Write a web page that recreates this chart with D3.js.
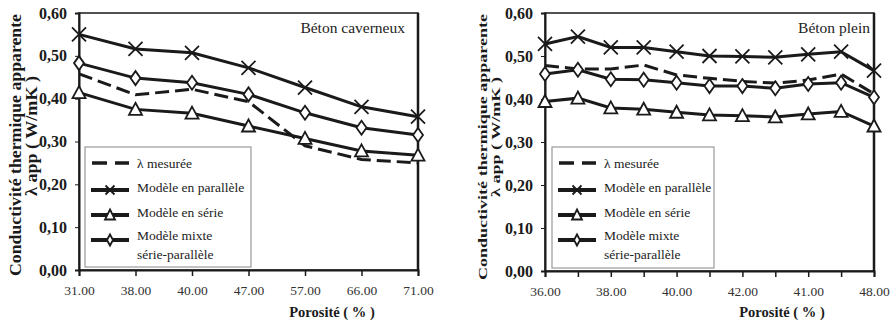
<!DOCTYPE html>
<html><head><meta charset="utf-8">
<script src="https://cdn.jsdelivr.net/npm/d3@7"></script>
<style>
html,body{margin:0;padding:0;background:#fff;}
svg{display:block;}
</style></head>
<body><svg id="c" width="896" height="325"></svg>
<script>
// ---- data ----
const seriesNames = ["λ mesurée", "Modèle en parallèle", "Modèle en série", "Modèle mixte", "série-parallèle"];
const yTicks = [0, 0.1, 0.2, 0.3, 0.4, 0.5, 0.6];

const leftCategories = ["31.00","38.00","40.00","47.00","57.00","66.00","71.00"];
const leftMeasured = [0.458,0.409,0.422,0.393,0.290,0.258,0.250];
const leftParallel = [0.550,0.516,0.507,0.472,0.426,0.381,0.358];
const leftSerie    = [0.414,0.375,0.366,0.336,0.307,0.278,0.268];
const leftMixte    = [0.483,0.448,0.437,0.410,0.367,0.332,0.315];

const rightTickLabels = ["36.00","","38.00","","40.00","","42.00","","41.00","","48.00"];
const rightMeasured = [0.478,0.470,0.470,0.479,0.456,0.448,0.441,0.437,0.444,0.458,0.412];
const rightParallel = [0.528,0.545,0.520,0.520,0.510,0.500,0.499,0.497,0.504,0.510,0.466];
const rightSerie    = [0.394,0.402,0.379,0.376,0.369,0.363,0.361,0.358,0.365,0.371,0.337];
const rightMixte    = [0.458,0.468,0.446,0.445,0.438,0.430,0.430,0.425,0.435,0.438,0.404];

const svg = d3.select("#c");
const INK = "#1a1a1a";
const SERIF = "Liberation Serif";

function xMark(g, s){ g.append("path").attr("d",`M${-s},${-s}L${s},${s}M${-s},${s}L${s},${-s}`).attr("stroke",INK).attr("stroke-width",1.8).attr("fill","none"); }
function triMark(g, w, h){ g.append("path").attr("d",`M0,${-h*0.55}L${w/2},${h*0.45}L${-w/2},${h*0.45}Z`).attr("stroke",INK).attr("stroke-width",1.8).attr("fill","#fff"); }
function diaMark(g, w, h){ g.append("path").attr("d",`M0,${-h/2}L${w/2},0L0,${h/2}L${-w/2},0Z`).attr("stroke",INK).attr("stroke-width",1.8).attr("fill","#fff"); }

function drawChart(cfg){
  const n = cfg.labels.length;
  const x = d3.scalePoint().domain(d3.range(n)).range([cfg.x0, cfg.x1]);
  const y = d3.scaleLinear().domain([0, 0.6]).range([cfg.yBot, cfg.yTop]);
  const g = svg.append("g");

  // frame
  g.append("rect").attr("x",cfg.x0).attr("y",cfg.yTop).attr("width",cfg.x1-cfg.x0).attr("height",cfg.yBot-cfg.yTop)
    .attr("fill","none").attr("stroke",INK).attr("stroke-width",1.5);
  g.append("line").attr("x1",cfg.x1).attr("x2",cfg.x1).attr("y1",cfg.yTop).attr("y2",cfg.yBot).attr("stroke",INK).attr("stroke-width",2.5);

  // y axis
  const ya = g.append("g").attr("transform",`translate(${cfg.x0},0)`)
    .call(d3.axisLeft(y).tickValues(yTicks).tickSize(4).tickPadding(8).tickFormat(d => d3.format(".2f")(d).replace(".", ",")));
  ya.attr("font-family",null);
  ya.select(".domain").attr("stroke",INK).attr("stroke-width",2);
  ya.selectAll(".tick line").attr("stroke",INK).attr("stroke-width",1);
  ya.selectAll("text").style("font-size","16px").style("font-weight","bold").attr("fill",INK);

  // x axis
  const xa = g.append("g").attr("transform",`translate(0,${cfg.yBot})`)
    .call(d3.axisBottom(x).tickSize(6).tickPadding(9).tickFormat(i => cfg.labels[i]));
  xa.attr("font-family",null);
  xa.select(".domain").attr("stroke",INK).attr("stroke-width",2);
  xa.selectAll(".tick line").attr("stroke",INK).attr("stroke-width",1.5);
  xa.selectAll("text").style("font-size","13.5px").attr("fill","#333");

  // series
  const line = d3.line().x((d,i)=>x(i)).y(d=>y(d));
  g.append("path").datum(cfg.measured).attr("d",line).attr("fill","none").attr("stroke",INK).attr("stroke-width",3).attr("stroke-dasharray","14,6");
  [[cfg.parallel,"x"],[cfg.serie,"t"],[cfg.mixte,"d"]].forEach(([vals,m])=>{
    g.append("path").datum(vals).attr("d",line).attr("fill","none").attr("stroke",INK).attr("stroke-width",3);
    vals.forEach((v,i)=>{
      const mg = g.append("g").attr("transform",`translate(${x(i)},${y(v)})`);
      if(m==="x") xMark(mg,7); else if(m==="t") triMark(mg,13,12); else diaMark(mg,10,14);
    });
  });

  // label
  g.append("text").attr("x",cfg.labelX).attr("y",33).attr("text-anchor","end").style("font-size","15.5px").attr("fill","#222").text(cfg.label);

  // y title
  g.append("text").attr("transform",`translate(${cfg.t1x},${cfg.t1y}) rotate(-90)`).attr("text-anchor","middle").attr("dominant-baseline","central")
    .style("font-size",cfg.tfs+"px").style("font-weight","bold").attr("fill",INK).attr("textLength",cfg.t1len).attr("lengthAdjust","spacingAndGlyphs")
    .text("Conductivité thermique apparente");
  g.append("text").attr("transform",`translate(${cfg.t2x},${cfg.t2y}) rotate(-90)`).attr("text-anchor","middle").attr("dominant-baseline","central")
    .style("font-size",cfg.tfs+"px").style("font-weight","bold").attr("fill",INK).attr("textLength",cfg.t2len).attr("lengthAdjust","spacingAndGlyphs")
    .text("λ app ( W/mK )");

  // x title
  g.append("text").attr("x",cfg.xtX).attr("y",317).attr("text-anchor","middle").style("font-size","14.5px").style("font-weight","bold").attr("fill",INK).text("Porosité ( % )");

  // legend
  const L = cfg.legend;
  const lg = g.append("g");
  lg.append("rect").attr("x",L.x).attr("y",L.y).attr("width",L.w).attr("height",L.h).attr("fill","#fff").attr("stroke","#999").attr("stroke-width",1.2);
  const sx0 = L.x+6, sx1 = L.x+44, tx = L.x+52;
  const rows = [{ly:163,ty:163,m:"dash",txt:[seriesNames[0]]},
                {ly:190,ty:187,m:"x",txt:[seriesNames[1]]},
                {ly:215,ty:212,m:"t",txt:[seriesNames[2]]},
                {ly:240,ty:235,m:"d",txt:[seriesNames[3],seriesNames[4]]}];
  rows.forEach(r=>{
    const ln = lg.append("line").attr("x1",sx0).attr("x2",sx1).attr("y1",r.ly).attr("y2",r.ly).attr("stroke",INK).attr("stroke-width",r.m==="dash"?3.5:4);
    if(r.m==="dash") ln.attr("stroke-dasharray","15,8").attr("x1",sx0+1);
    const mg = lg.append("g").attr("transform",`translate(${(sx0+sx1)/2},${r.ly})`);
    if(r.m==="x") xMark(mg,4.5); else if(r.m==="t") triMark(mg,10,10); else if(r.m==="d") diaMark(mg,6,11);
    r.txt.forEach((t,k)=>{
      lg.append("text").attr("x",tx).attr("y",r.ty+k*19).attr("dominant-baseline","central").style("font-size","13.5px").attr("fill","#222").text(t);
    });
  });
}

drawChart({labels:leftCategories, measured:leftMeasured, parallel:leftParallel, serie:leftSerie, mixte:leftMixte,
  x0:79, x1:418, yTop:13, yBot:270, label:"Béton caverneux", labelX:405,
  t1x:15, t1y:145, t1len:262, t2x:31, t2y:136, t2len:120, tfs:16.5, xtX:332,
  legend:{x:85,y:147,w:166,h:120}});
drawChart({labels:rightTickLabels, measured:rightMeasured, parallel:rightParallel, serie:rightSerie, mixte:rightMixte,
  x0:545, x1:874, yTop:13, yBot:271, label:"Béton plein", labelX:870,
  t1x:482, t1y:147, t1len:266, t2x:495, t2y:137, t2len:120, tfs:13.5, xtX:782,
  legend:{x:552,y:147,w:162,h:121}});

svg.selectAll("text").style("font-family", SERIF);
</script></body></html>
